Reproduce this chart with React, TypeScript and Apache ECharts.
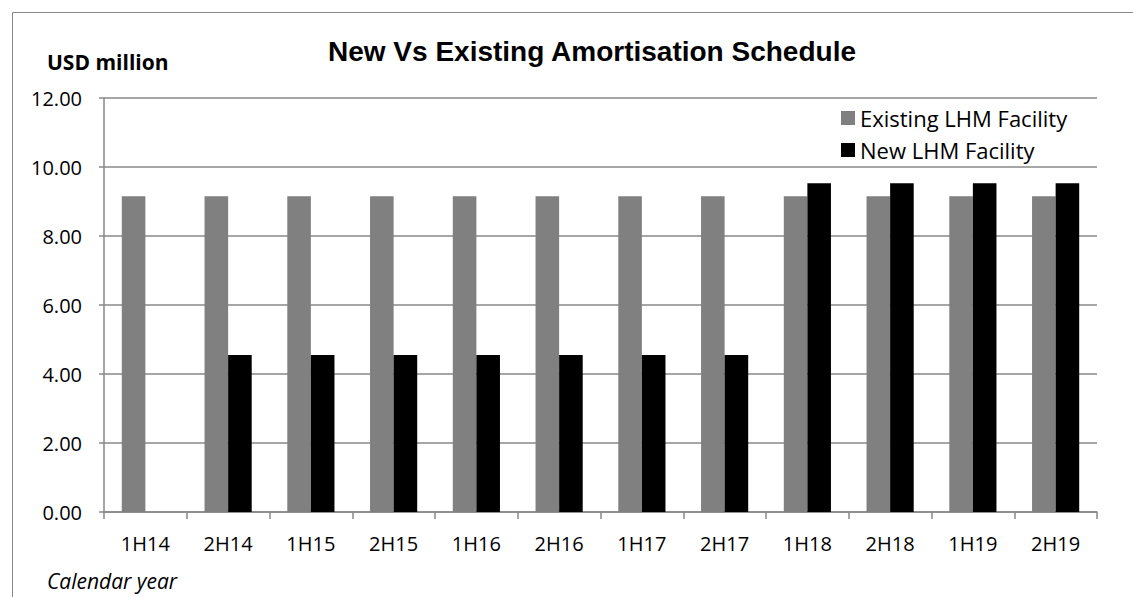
import React, { useEffect, useRef } from "react";
import * as echarts from "echarts";

const categories = ["1H14", "2H14", "1H15", "2H15", "1H16", "2H16", "1H17", "2H17", "1H18", "2H18", "1H19", "2H19"];
const existingValues = [9.15, 9.15, 9.15, 9.15, 9.15, 9.15, 9.15, 9.15, 9.15, 9.15, 9.15, 9.15];
const newValues = [0, 4.55, 4.55, 4.55, 4.55, 4.55, 4.55, 4.55, 9.53, 9.53, 9.53, 9.53];
const seriesNames = ["Existing LHM Facility", "New LHM Facility"];

export default function App() {
  const ref = useRef<HTMLDivElement>(null);
  useEffect(() => {
    const chart = echarts.init(ref.current!, null, { renderer: "svg" });
    const font = "'Open Sans', 'Noto Sans', sans-serif";
    chart.setOption({
      animation: false,
      backgroundColor: "#fff",
      title: {
        text: "New Vs Existing Amortisation Schedule",
        left: 587,
        textAlign: "center",
        top: 32,
        textStyle: { fontFamily: "'Liberation Sans', Arial, sans-serif", fontWeight: "bold", fontSize: 28, color: "#000" },
      },
      legend: {
        orient: "vertical",
        left: 836,
        top: 102,
        icon: "rect",
        itemWidth: 14,
        itemHeight: 14,
        itemGap: 10,
        textStyle: { fontFamily: font, fontSize: 22, color: "#000" },
        data: seriesNames,
      },
      graphic: [
        {
          type: "rect",
          shape: { x: 12.5, y: 12.5, width: 1140, height: 620 },
          style: { fill: "none", stroke: "#888", lineWidth: 1 },
          silent: true,
        },
        {
          type: "text",
          left: 47,
          top: 51,
          style: { text: "USD million", fontFamily: font, fontWeight: "bold", fontSize: 21, fill: "#000" },
        },
        {
          type: "text",
          left: 47,
          top: 570,
          style: { text: "Calendar year", fontFamily: font, fontStyle: "italic", fontSize: 21, fill: "#000" },
        },
      ],
      grid: { left: 104, right: 36, top: 98, bottom: 85, containLabel: false },
      xAxis: {
        type: "category",
        data: categories,
        axisLine: { lineStyle: { color: "#888", width: 1.5 } },
        axisTick: { show: true, alignWithLabel: false, length: 7, lineStyle: { color: "#888", width: 1.5 } },
        axisLabel: { fontFamily: font, fontSize: 20, color: "#000", margin: 21 },
      },
      yAxis: {
        type: "value",
        min: 0,
        max: 12,
        interval: 2,
        axisLine: { show: true, lineStyle: { color: "#888", width: 1.5 } },
        axisTick: { show: true, length: 5, inside: false, lineStyle: { color: "#888", width: 1.5 } },
        splitLine: { lineStyle: { color: "#888", width: 1.5 } },
        axisLabel: { fontFamily: font, fontSize: 20, color: "#000", margin: 22, formatter: (v: number) => v.toFixed(2) },
      },
      series: [
        {
          name: seriesNames[0],
          type: "bar",
          data: existingValues,
          itemStyle: { color: "#808080" },
          barGap: "0%",
          barCategoryGap: "43%",
        },
        {
          name: seriesNames[1],
          type: "bar",
          data: newValues,
          itemStyle: { color: "#000" },
          barGap: "0%",
          barCategoryGap: "43%",
        },
      ],
    });
    return () => chart.dispose();
  }, []);
  return <div ref={ref} style={{ position: "fixed", left: 0, top: 0, width: 1133, height: 597 }} />;
}
